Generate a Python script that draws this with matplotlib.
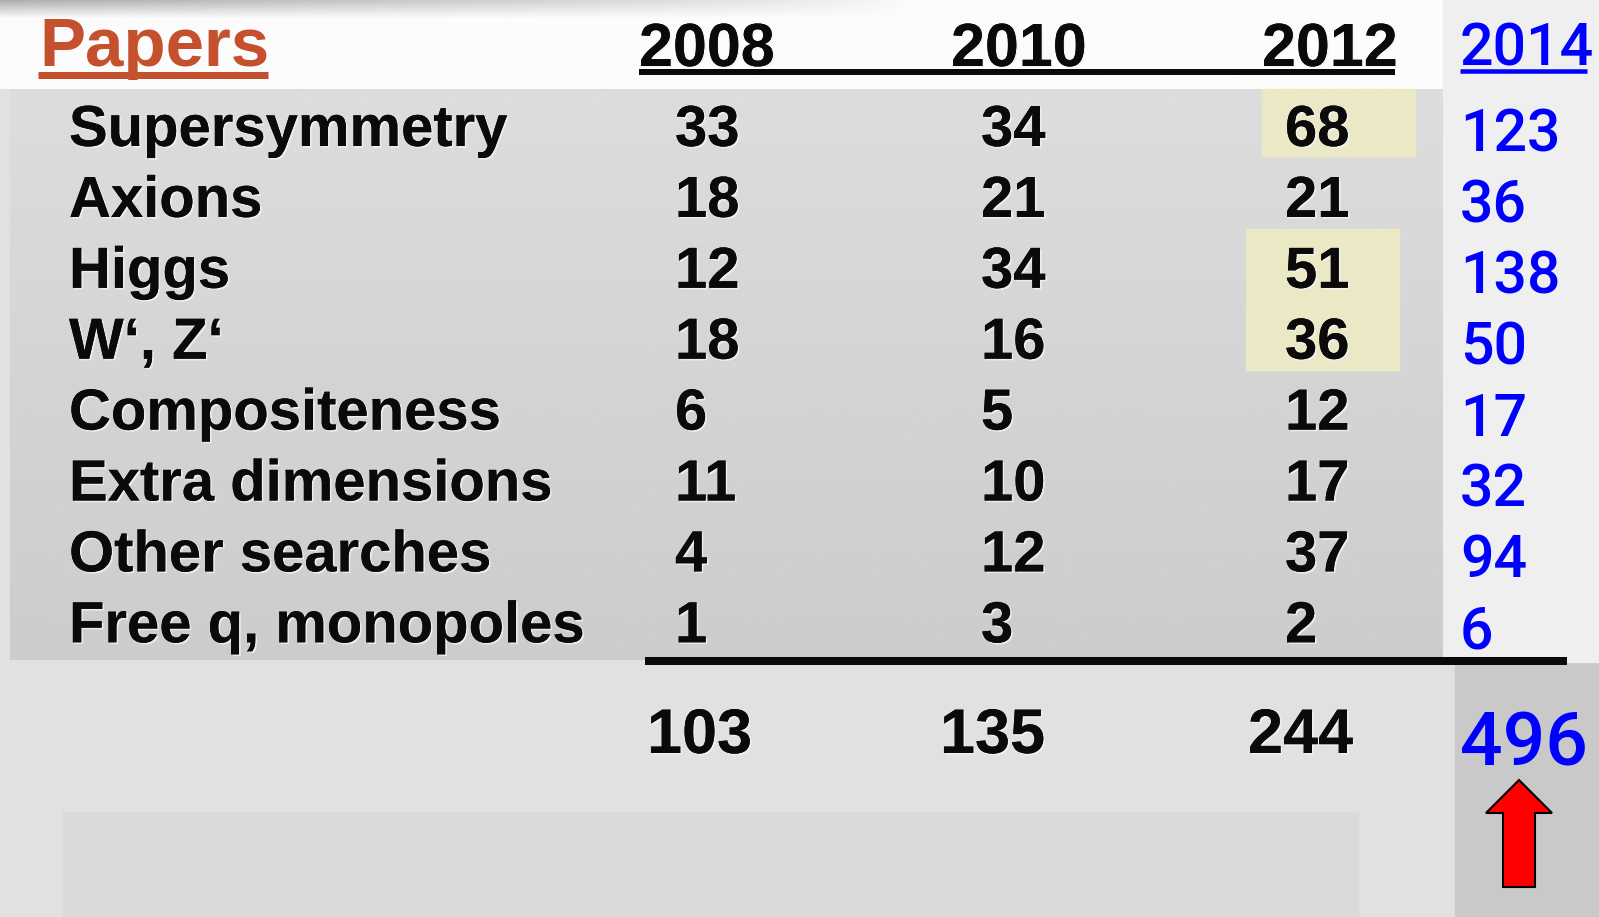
"""
Slide-style table: number of new-physics search papers per year.
Drawn on a pixel-coordinate axes so the layout follows the slide.
"""

import matplotlib
matplotlib.use("Agg")
import matplotlib.pyplot as plt
import matplotlib.patheffects as pe
import numpy as np
from matplotlib.patches import Rectangle, FancyArrow

# --- data -----------------------------------------------------------------
categories = ["Supersymmetry", "Axions", "Higgs", "W\u2018, Z\u2018",
              "Compositeness", "Extra dimensions", "Other searches",
              "Free q, monopoles"]
years = ["2008", "2010", "2012"]
papers_2008 = [33, 18, 12, 18, 6, 11, 4, 1]
papers_2010 = [34, 21, 34, 16, 5, 10, 12, 3]
papers_2012 = [68, 21, 51, 36, 12, 17, 37, 2]
papers_2014 = [123, 36, 138, 50, 17, 32, 94, 6]
highlight_2012 = [0, 2, 3]          # rows with a yellow cell in 2012

# --- layout (pixels of the 1599x917 slide) ---------------------------------
W, H = 1599, 917
PX2PT = 72 / 100
ROW0 = 146          # baseline of first row
ROW_STEP = 70.9
LABEL_X = 69
COL_X = [675, 981, 1285]
YEAR_X = [639, 951, 1262]
TOT_X = [647, 940, 1248]
BLUE_X = 1460

BLACK = "#0a0a0a"
BLUE = "#0000ff"
RUST = "#c4502e"

fig = plt.figure(figsize=(W / 100, H / 100), dpi=100)
ax = fig.add_axes([0, 0, 1, 1])
ax.set_xlim(0, W)
ax.set_ylim(H, 0)
ax.axis("off")
fig.patch.set_facecolor("#e1e1e1")

# backgrounds
ax.add_patch(Rectangle((0, 0), W, H, color="#e1e1e1", zorder=0))
ax.add_patch(Rectangle((63, 812), 1295, 105, color="#dadada", zorder=0.5))
ax.add_patch(Rectangle((1455, 662), W - 1455, H - 662, color="#c9c9c9", zorder=0.5))

# header band with a grey shade along its top
yy = np.linspace(0, 1, 90)[:, None]
xx = np.linspace(0, 1, 300)[None, :]
shade = np.clip(1 - yy * 5, 0, 1) * np.clip(1 - xx * 1.6, 0, 1) ** 0.7
hdr = 0.985 - 0.30 * shade
ax.imshow(hdr, extent=(0, 1443, 89, 0), cmap="gray", vmin=0, vmax=1,
          aspect="auto", zorder=1)
# light right-hand column for 2014
ax.add_patch(Rectangle((1443, 0), W - 1443, 662, color="#efefef", zorder=1))

# grey table panel (vertical gradient)
g = np.linspace(0.865, 0.80, 200)[:, None] * np.ones((1, 10))
ax.imshow(g, extent=(10, 1443, 660, 89), cmap="gray", vmin=0, vmax=1,
          aspect="auto", zorder=1)

# yellow highlight cells in the 2012 column
hl_col = "#ebe8c6"
ax.add_patch(Rectangle((1262, ROW0 - 57), 153, 67, color=hl_col, zorder=2))
ax.add_patch(Rectangle((1246, ROW0 + 2 * ROW_STEP - 59), 153, 141,
                       color=hl_col, zorder=2))

shadow = [pe.withSimplePatchShadow(offset=(1.2, -1.2), shadow_rgbFace="#f4f4f4",
                                   alpha=0.8), pe.Normal()]

bold = dict(family="Liberation Sans", weight="bold", color=BLACK,
            va="baseline", ha="left", zorder=5, path_effects=shadow)
blue = dict(family="Roboto", weight="medium", color=BLUE, va="baseline",
            ha="left", zorder=5)

# header
ax.text(39, 66, "Papers", fontsize=69 * PX2PT,
        **{**bold, "color": RUST, "path_effects": None})
ax.plot([38, 268], [75, 75], color=RUST, lw=7 * PX2PT, solid_capstyle="butt",
        zorder=5)
for x, yr in zip(YEAR_X, years):
    ax.text(x, 66, yr, fontsize=61 * PX2PT, **bold)
ax.plot([639, 1395], [72, 72], color=BLACK, lw=6 * PX2PT,
        solid_capstyle="butt", zorder=5)
ax.text(BLUE_X, 65, "2014", fontsize=59 * PX2PT, **blue)
ax.plot([1460, 1587], [71, 71], color=BLUE, lw=4.5 * PX2PT,
        solid_capstyle="butt", zorder=5)

# body rows
cols = [papers_2008, papers_2010, papers_2012]
for i, cat in enumerate(categories):
    y = ROW0 + i * ROW_STEP
    ax.text(LABEL_X, y, cat, fontsize=58 * PX2PT, **bold)
    for x, col in zip(COL_X, cols):
        ax.text(x, y, str(col[i]), fontsize=58 * PX2PT, **bold)
    ax.text(BLUE_X, y + 6, str(papers_2014[i]), fontsize=59 * PX2PT, **blue)

# sum line and totals
ax.plot([645, 1567], [661, 661], color=BLACK, lw=8 * PX2PT,
        solid_capstyle="butt", zorder=5)
for x, col in zip(TOT_X, cols):
    ax.text(x, 753, str(sum(col)), fontsize=63 * PX2PT, **bold)
ax.text(BLUE_X, 765, str(sum(papers_2014)), fontsize=75 * PX2PT, **blue)

# red arrow under the 2014 total
ax.add_patch(FancyArrow(1519, 887, 0, -107, width=32, head_width=66,
                        head_length=33, length_includes_head=True,
                        facecolor="#ff0000", edgecolor="black", lw=1.5,
                        zorder=6))

fig.savefig("out.png", dpi=100, facecolor=fig.get_facecolor())
